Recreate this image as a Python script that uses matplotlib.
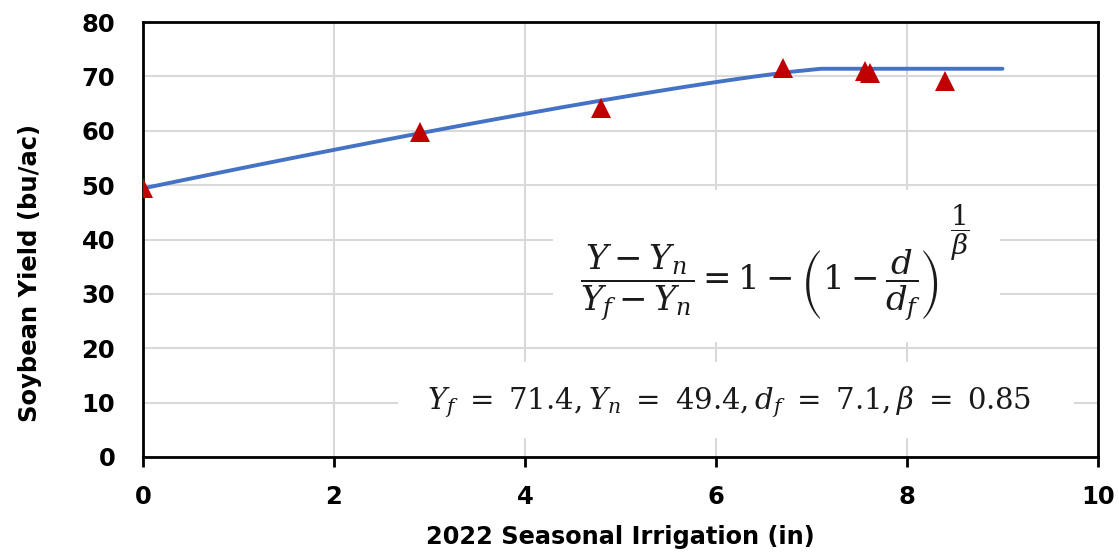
import matplotlib
matplotlib.use("Agg")
import matplotlib.pyplot as plt
from matplotlib.patches import Rectangle

# Measured yields (bu/ac) against seasonal irrigation depth (in)
irrigation_obs = [0.0, 2.9, 4.8, 6.7, 7.56, 7.61, 8.4]
yield_obs = [49.4, 59.7, 64.1, 71.5, 71.0, 70.6, 69.1]

# Fitted response curve (Yf = 71.4, Yn = 49.4, df = 7.1, beta = 0.85)
irrigation_fit = [0.0, 0.4, 0.8, 1.2, 1.6, 2.0, 2.4, 2.8, 3.2, 3.6, 4.0,
                  4.4, 4.8, 5.2, 5.6, 6.0, 6.4, 6.8, 7.1, 7.6, 8.0, 8.5, 9.0]
yield_fit = [49.40, 50.85, 52.29, 53.71, 55.11, 56.49, 57.86, 59.21, 60.53,
             61.83, 63.10, 64.35, 65.56, 66.73, 67.87, 68.95, 69.96, 70.87,
             71.40, 71.40, 71.40, 71.40, 71.40]

x_ticks = [0, 2, 4, 6, 8, 10]
y_ticks = [0, 10, 20, 30, 40, 50, 60, 70, 80]

plt.rcParams["font.family"] = ["DejaVu Sans"]
plt.rcParams["mathtext.fontset"] = "dejavuserif"

fig = plt.figure(figsize=(11.19, 5.59), dpi=100)
ax = fig.add_axes([143 / 1119, 1 - 457 / 559, (1098 - 143) / 1119, (457 - 22) / 559])

ax.set_xlim(0, 10)
ax.set_ylim(0, 80)
ax.set_xticks(x_ticks)
ax.set_yticks(y_ticks)

ax.set_axisbelow(True)
ax.grid(True, color="#d9d9d9", linewidth=1.5)

for side in ["left", "right", "top", "bottom"]:
    ax.spines[side].set_color("black")
    ax.spines[side].set_linewidth(2.0)

ax.tick_params(axis="x", direction="out", length=7, width=2.0, pad=13,
               labelsize=17.5, colors="black")
ax.tick_params(axis="y", length=0, pad=20, labelsize=17.5, colors="black")
for lbl in ax.get_xticklabels() + ax.get_yticklabels():
    lbl.set_fontweight("bold")

ax.set_xlabel("2022 Seasonal Irrigation (in)", fontsize=17.3, fontweight="bold",
              labelpad=12)
ax.set_ylabel("Soybean Yield (bu/ac)", fontsize=17.5, fontweight="bold")
ax.yaxis.set_label_coords(-0.106, 0.423)

# White panels behind the equations
ax.add_patch(Rectangle((4.29, 21.1), 8.97 - 4.29, 49.1 - 21.1,
                       facecolor="white", edgecolor="none", zorder=1.5))
ax.add_patch(Rectangle((2.67, 3.5), 9.75 - 2.67, 17.5 - 3.5,
                       facecolor="white", edgecolor="none", zorder=1.5))

ax.plot(irrigation_fit, yield_fit, color="#4472C4", linewidth=2.8,
        solid_capstyle="round", zorder=3)
ax.plot(irrigation_obs, yield_obs, linestyle="none", marker="^",
        markersize=14, color="#C00000", markeredgewidth=0, zorder=4)

# Yield response equation, with its 1/beta exponent set as a stacked fraction
ax.text(4.58, 32.0,
        r"$\dfrac{Y-Y_n}{Y_f-Y_n}=1-\left(1-\dfrac{d}{d_f}\right)$",
        fontsize=24.5, ha="left", va="center", color="#1a1a1a", zorder=5)
ax.text(8.55, 41.3, r"$\dfrac{1}{\beta}$",
        fontsize=20, ha="center", va="center", color="#1a1a1a", zorder=5)
ax.text(6.14, 10.0,
        r"$Y_f\ =\ 71.4,Y_n\ =\ 49.4,d_f\ =\ 7.1,\beta\ =\ 0.85$",
        fontsize=21, ha="center", va="center", color="#1a1a1a", zorder=5)

fig.savefig("out.png", dpi=100)
